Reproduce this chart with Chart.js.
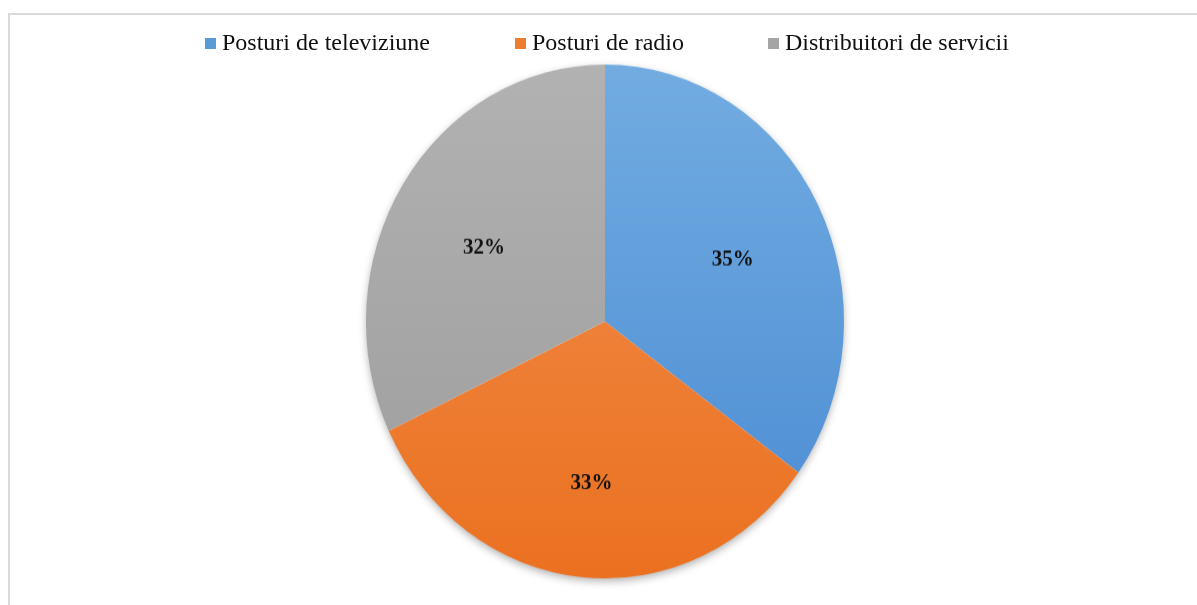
<!DOCTYPE html>
<html lang="ro">
<head>
    <meta charset="UTF-8">
    <title>Pie chart</title>
    <style>
        * { margin: 0; padding: 0; box-sizing: border-box; }
        body { width: 1197px; height: 605px; background: #fff; overflow: hidden; position: relative; }
        .frame {
            position: absolute; left: 8px; top: 13px; right: -5px; bottom: -5px;
            border-left: 2px solid #d9d9d9; border-top: 2px solid #d9d9d9;
        }
        .wrap {
            position: absolute; left: 0; top: 0; width: 1197px; height: 563px;
            transform: scaleY(1.075); transform-origin: 0 0;
        }
        #legend {
            position: absolute; top: 29px; left: 0; width: 1197px; height: 30px;
            font-family: 'Liberation Serif', 'Times New Roman', serif; font-size: 24px; color: #111;
        }
        #legend div { position: absolute; top: 0; white-space: nowrap; }
        #legend span.box { display: inline-block; width: 11px; height: 11px; margin-right: 6px; vertical-align: 1px; }
    </style>
    <script src="https://cdn.jsdelivr.net/npm/chart.js"></script>
</head>
<body>
    <div class="frame"></div>
    <div class="wrap"><canvas id="grafic"></canvas></div>
    <div id="legend"></div>
    <script>
        const categorii = ['Posturi de televiziune', 'Posturi de radio', 'Distribuitori de servicii'];
        const procente = [35, 33, 32];
        const culori = ['#5b9bd5', '#ed7d31', '#a5a5a5'];
        const culoriSus = ['#72ace1', '#f29050', '#b2b2b2'];
        const culoriJos = ['#4a8bd3', '#eb7120', '#9c9c9c'];
        const pozLegenda = [205, 515, 768];

        function gradient(context) {
            const chart = context.chart;
            const area = chart.chartArea;
            if (!area) return culori[context.dataIndex];
            const g = chart.ctx.createLinearGradient(0, area.top, 0, area.bottom);
            g.addColorStop(0, culoriSus[context.dataIndex]);
            g.addColorStop(1, culoriJos[context.dataIndex]);
            return g;
        }

        // etichete procentuale pe felii
        const eticheteFelii = {
            id: 'eticheteFelii',
            afterDatasetsDraw(chart) {
                const ctx = chart.ctx;
                const meta = chart.getDatasetMeta(0);
                ctx.save();
                ctx.font = 'bold 21px "Liberation Serif", serif';
                ctx.fillStyle = '#111';
                ctx.textAlign = 'center';
                ctx.textBaseline = 'middle';
                meta.data.forEach((arc, i) => {
                    const p = arc.getProps(['x', 'y', 'startAngle', 'endAngle', 'outerRadius'], true);
                    const mid = (p.startAngle + p.endAngle) / 2;
                    const r = p.outerRadius * 0.6;
                    ctx.fillText(procente[i] + '%', p.x + Math.cos(mid) * r, p.y + Math.sin(mid) * r + 8);
                });
                ctx.restore();
            }
        };

        // umbra sub tot discul
        const umbra = {
            id: 'umbra',
            beforeDatasetsDraw(chart) {
                const arc = chart.getDatasetMeta(0).data[0];
                if (!arc) return;
                const ctx = chart.ctx;
                ctx.save();
                ctx.shadowColor = 'rgba(0,0,0,0.35)';
                ctx.shadowBlur = 8;
                ctx.shadowOffsetY = 3;
                ctx.fillStyle = '#fff';
                ctx.beginPath();
                ctx.arc(arc.x, arc.y, arc.outerRadius - 1, 0, Math.PI * 2);
                ctx.fill();
                ctx.restore();
            }
        };

        new Chart(document.getElementById('grafic'), {
            type: 'pie',
            data: {
                labels: categorii,
                datasets: [{
                    data: procente,
                    backgroundColor: gradient,
                    borderWidth: 0
                }]
            },
            options: {
                responsive: true,
                maintainAspectRatio: false,
                animation: false,
                layout: { padding: { top: 60, bottom: 25, left: 13, right: 0 } },
                plugins: {
                    legend: { display: false },
                    tooltip: { enabled: false }
                }
            },
            plugins: [umbra, eticheteFelii]
        });

        document.getElementById('legend').innerHTML = categorii.map((c, i) =>
            `<div style="left:${pozLegenda[i]}px"><span class="box" style="background:${culori[i]}"></span>${c}</div>`).join('');
    </script>
</body>
</html>
